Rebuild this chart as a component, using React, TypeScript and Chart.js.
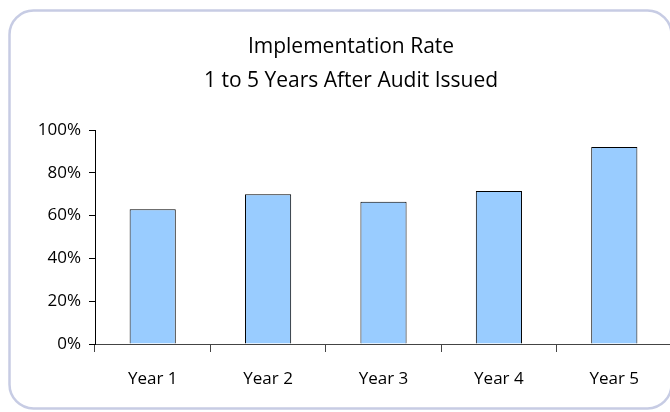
import React, { useEffect, useRef } from "react";
import { Chart, registerables } from "chart.js";

Chart.register(...registerables);

// Share of audit recommendations implemented, by years since the audit was issued
const categories = ["Year 1", "Year 2", "Year 3", "Year 4", "Year 5"];
const implementationRate = [0.63, 0.7, 0.665, 0.715, 0.92];
const titleLines = ["Implementation Rate", "1 to 5 Years After Audit Issued"];
const yMin = 0;
const yMax = 1;
const yStep = 0.2;

const FONT = "'Open Sans', sans-serif";

// Rounded frame and two-line heading drawn around the plot
const framePlugin = {
  id: "frameAndHeading",
  beforeDraw(chart: Chart) {
    const { ctx } = chart;
    ctx.save();
    ctx.fillStyle = "#ffffff";
    ctx.fillRect(0, 0, chart.width, chart.height);
    ctx.beginPath();
    (ctx as any).roundRect(9.5, 10.5, 662, 398, 24);
    ctx.strokeStyle = "#c7cce4";
    ctx.lineWidth = 2.5;
    ctx.stroke();
    ctx.restore();
  },
  afterDraw(chart: Chart) {
    const { ctx } = chart;
    ctx.save();
    ctx.fillStyle = "#000000";
    ctx.textAlign = "center";
    ctx.textBaseline = "middle";
    ctx.font = `21px ${FONT}`;
    ctx.fillText(titleLines[0], 351, 47);
    ctx.fillText(titleLines[1], 351, 81);
    ctx.restore();
  },
};

export default function App() {
  const canvasRef = useRef<HTMLCanvasElement | null>(null);

  useEffect(() => {
    const canvas = canvasRef.current;
    if (!canvas) return;
    const chart = new Chart(canvas, {
      type: "bar",
      data: {
        labels: categories,
        datasets: [
          {
            data: implementationRate,
            backgroundColor: "#99ccff",
            borderColor: "#000000",
            borderWidth: 1,
            categoryPercentage: 1,
            barPercentage: 0.4,
          },
        ],
      },
      options: {
        responsive: false,
        animation: false,
        devicePixelRatio: 1,
        layout: { padding: { top: 130, left: 0, right: 8, bottom: 28 } },
        plugins: {
          legend: { display: false },
          title: { display: false },
          tooltip: { enabled: false },
        },
        scales: {
          x: {
            offset: true,
            afterFit: (scale: any) => {
              scale.height = 40;
            },
            grid: {
              display: true,
              offset: true,
              drawOnChartArea: false,
              drawTicks: true,
              tickLength: 8,
              color: "#444444",
            },
            border: { display: true, color: "#444444", width: 1 },
            ticks: {
              color: "#000000",
              font: { family: FONT, size: 17 },
              padding: 17,
              maxRotation: 0,
            },
          },
          y: {
            min: yMin,
            max: yMax,
            afterFit: (scale: any) => {
              scale.width = 95;
            },
            grid: {
              display: true,
              drawOnChartArea: false,
              drawTicks: true,
              tickLength: 6,
              color: "#000000",
            },
            border: { display: true, color: "#000000", width: 1 },
            ticks: {
              stepSize: yStep,
              color: "#000000",
              font: { family: FONT, size: 17 },
              padding: 8,
              callback: (v: any) => `${Math.round(Number(v) * 100)}%`,
            },
          },
        },
      },
      plugins: [framePlugin],
    });
    return () => chart.destroy();
  }, []);

  return (
    <div
      style={{
        position: "fixed",
        left: 0,
        top: 0,
        width: 670,
        height: 412,
        overflow: "hidden",
        background: "#ffffff",
      }}
    >
      <canvas ref={canvasRef} width={680} height={412} style={{ width: 680, height: 412, display: "block" }} />
    </div>
  );
}
